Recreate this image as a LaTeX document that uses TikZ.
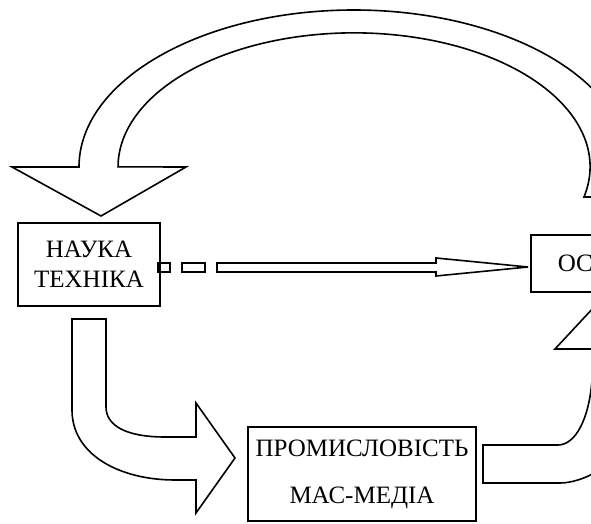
\documentclass[tikz,border=0pt]{standalone}
\usepackage{fontspec}
\setmainfont{Liberation Serif}
\usepackage{tikz}
\usetikzlibrary{positioning}

\begin{document}
\begin{tikzpicture}[x=0.5pt,y=-0.5pt,line width=0.8pt,
  every node/.style={font=\fontsize{12.5}{15}\selectfont},
  block/.style={draw,align=center,inner sep=0pt}]
  \useasboundingbox (0,0) rectangle (591,524);
  \clip (0,0) rectangle (591,524);
  % boxes
  \node[block,minimum width=71pt,minimum height=41.5pt] (nauka) at (89,264.5) {НАУКА\\ТЕХНІКА};
  \node[block,minimum width=114pt,minimum height=47pt,font=\fontsize{12.5}{23.5}\selectfont] (prom) at (362,474) {ПРОМИСЛОВІСТЬ\\МАС-МЕДІА};
  \node[block,anchor=north west,minimum height=28.5pt,text width=60pt,inner xsep=13.5pt,align=left] (osv) at (530,234) {ОС};
  % big arc arrow back to the science box
  \draw (101,216) -- (12,167) -- (79,167)
    arc[start angle=180,end angle=371,x radius=275,y radius=157] -- (584,197)
    arc[start angle=373,end angle=180,x radius=236,y radius=134] -- (186,167) -- cycle;
  % dashed straight arrow
  \draw (158,263) rectangle (170,272);
  \draw (182,263) rectangle (205,272);
  \draw (217,263) -- (436,263) -- (436,258) -- (528,267) -- (436,276) -- (436,272) -- (217,272) -- cycle;
  % bent arrow down to industry
  \draw (72,319) -- (72,410) .. controls (72,455) and (120,480) .. (175,480) -- (196,480)
    -- (196,513) -- (235,458) -- (196,403) -- (196,437) -- (165,437)
    .. controls (125,437) and (106,425) .. (106,407) -- (106,319) -- cycle;
  % bent arrow up from industry
  \draw (483,445) -- (558,445) .. controls (575,445) and (589,420) .. (592,380) -- (592,349)
    -- (555,349) -- (609,291) -- (663,349) -- (631,349) -- (631,420)
    .. controls (625,465) and (582,483) .. (560,483) -- (483,483) -- cycle;
\end{tikzpicture}
\end{document}
